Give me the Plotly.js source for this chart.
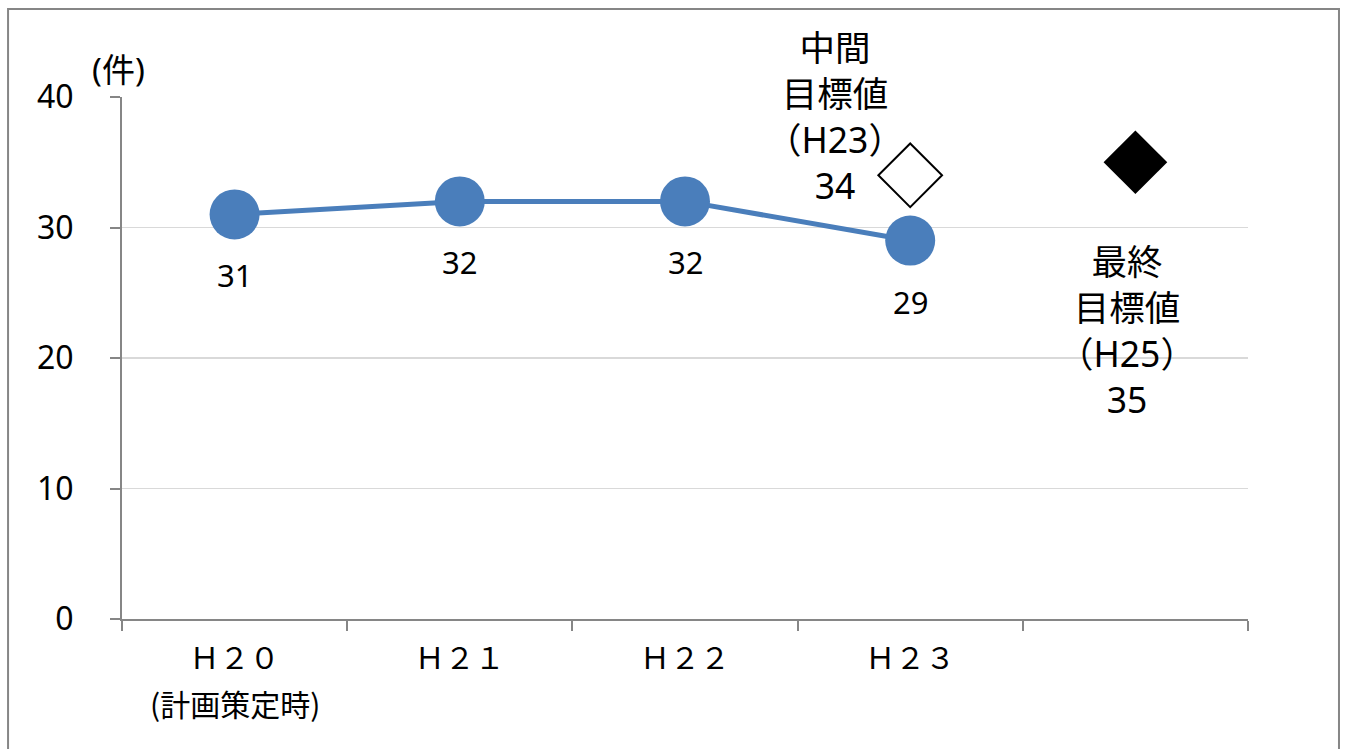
<!DOCTYPE html>
<html>
<head>
<meta charset="utf-8">
<script src="https://cdn.plot.ly/plotly-3.0.1.min.js"></script>
<style>html,body{margin:0;padding:0;background:#fff;}#chart{width:1345px;height:749px;}</style>
</head>
<body>
<div id="chart"></div>
<script>
// ---- data ----
const categories = ['Ｈ２０', 'Ｈ２１', 'Ｈ２２', 'Ｈ２３'];
const categoryNotes = ['(計画策定時)', '', '', ''];
const actualValues = [31, 32, 32, 29];
const midTargetSlot = 3;
const midTargetValue = 34;
const midTargetLabel = '中間<br>目標値<br>（H23）<br>34';
const finalTargetSlot = 4;
const finalTargetValue = 35;
const finalTargetLabel = '最終<br>目標値<br>（H25）<br>35';
const yTicks = [0, 10, 20, 30, 40];
const yUnit = '(件)';

const slotCount = 5;
const xIdx = categories.map((_, i) => i);
const boundaries = Array.from({length: slotCount + 1}, (_, i) => i - 0.5);

const FONT = '"Noto Sans", "Noto Sans CJK JP", sans-serif';
const CJK = '"Noto Sans CJK JP", "Noto Sans", sans-serif';
const blue = '#4a7ebb';
const axisGray = '#868686';

const traces = [
  {
    x: xIdx, y: actualValues, type: 'scatter', mode: 'lines+markers',
    line: {color: blue, width: 5},
    marker: {color: blue, size: 50},
    hoverinfo: 'skip', cliponaxis: false
  },
  {
    x: [midTargetSlot], y: [midTargetValue], type: 'scatter', mode: 'markers',
    marker: {symbol: 'diamond', size: 49, color: '#ffffff', line: {color: '#000000', width: 2}},
    hoverinfo: 'skip', cliponaxis: false
  },
  {
    x: [finalTargetSlot], y: [finalTargetValue], type: 'scatter', mode: 'markers',
    marker: {symbol: 'diamond', size: 49, color: '#000000'},
    hoverinfo: 'skip', cliponaxis: false
  }
];

const annotations = actualValues.map((v, i) => ({
  x: i, y: v, xref: 'x', yref: 'y', text: String(v), showarrow: false,
  yshift: -61, font: {family: FONT, size: 31, color: '#000'}
}));
categoryNotes.forEach((note, i) => {
  if (!note) return;
  annotations.push({
    x: i, y: 0, xref: 'x', yref: 'paper', text: note, showarrow: false,
    yanchor: 'middle', yshift: -84, font: {family: CJK, size: 30, color: '#000'}
  });
});
annotations.push({
  x: midTargetSlot, y: midTargetValue, xref: 'x', yref: 'y', text: midTargetLabel,
  showarrow: false, xshift: -75, yshift: 59, font: {family: FONT, size: 35.5, color: '#000'}
});
annotations.push({
  x: finalTargetSlot, y: finalTargetValue, xref: 'x', yref: 'y', text: finalTargetLabel,
  showarrow: false, xshift: -8, yshift: -168, font: {family: FONT, size: 35.5, color: '#000'}
});
annotations.push({
  x: 0, y: 1, xref: 'paper', yref: 'paper', text: yUnit, showarrow: false,
  xanchor: 'center', yanchor: 'middle', xshift: -4, yshift: 28,
  font: {family: FONT, size: 33, color: '#000'}
});

const layout = {
  width: 1345, height: 749,
  margin: {l: 122, r: 97, t: 97, b: 130},
  paper_bgcolor: '#fff', plot_bgcolor: '#fff',
  showlegend: false,
  xaxis: {
    range: [-0.5, slotCount - 0.5], fixedrange: true,
    tickvals: xIdx, ticktext: categories, ticks: '',
    showgrid: false, zeroline: false,
    showline: true, linecolor: axisGray, linewidth: 2,
    tickfont: {family: CJK, size: 30, color: '#000'},
    ticklabelstandoff: 12,
    minor: {tickvals: boundaries, ticks: 'outside', ticklen: 10, tickwidth: 2, tickcolor: axisGray, showgrid: false}
  },
  yaxis: {
    range: [0, 40], fixedrange: true,
    tickvals: yTicks, ticks: 'outside', ticklen: 10, tickwidth: 2, tickcolor: axisGray,
    showgrid: true, gridcolor: '#d9d9d9', gridwidth: 1.5,
    zeroline: false, showline: true, linecolor: axisGray, linewidth: 2,
    tickfont: {family: FONT, size: 32, color: '#000'},
    ticklabelstandoff: 30
  },
  annotations: annotations,
  shapes: [{
    type: 'rect', xref: 'paper', yref: 'paper',
    x0: -0.1012, x1: 1.0808, y0: -0.3, y1: 1.1686,
    line: {color: axisGray, width: 2}, fillcolor: 'rgba(0,0,0,0)', layer: 'below'
  }]
};

Plotly.newPlot('chart', traces, layout, {staticPlot: true, displayModeBar: false});
</script>
</body>
</html>
